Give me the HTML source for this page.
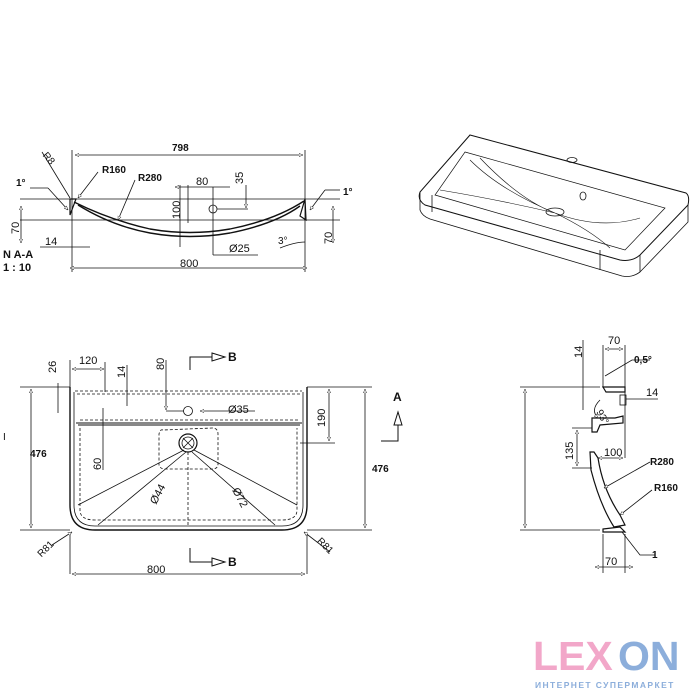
<!DOCTYPE html>
<html><head><meta charset="utf-8"><style>
html,body{margin:0;padding:0;background:#fff;width:700px;height:700px;overflow:hidden}
svg{display:block}
text{font-family:"Liberation Sans",sans-serif;fill:#111}
.b{font-weight:bold}
</style></head><body>
<svg width="700" height="700" viewBox="0 0 700 700" xmlns="http://www.w3.org/2000/svg">
<defs>
<marker id="a" viewBox="0 0 10 10" refX="10" refY="5" markerWidth="5" markerHeight="5" orient="auto-start-reverse"><path d="M0,1 L10,5 L0,9 z" fill="#fff" stroke="#111" stroke-width="1.2"/></marker>
</defs>
<g stroke="#111" stroke-width="0.8" fill="none">
<!-- ===== Section A-A ===== -->
<line x1="20" y1="199" x2="340" y2="199"/>
<line x1="20" y1="220" x2="340" y2="220"/>
<line x1="72" y1="150" x2="72" y2="272"/>
<line x1="305" y1="150" x2="305" y2="272"/>
<line x1="75" y1="155" x2="303" y2="155" marker-start="url(#a)" marker-end="url(#a)"/>
<line x1="70" y1="268" x2="307" y2="268" marker-start="url(#a)" marker-end="url(#a)"/>
<path d="M74,202 Q110,220 150,229 Q190,236 230,229 Q275,220 304,201" stroke-width="1.4"/>
<path d="M78,205 Q112,226 150,233 Q190,240 230,233 Q275,224 300,206" stroke-width="1.4"/>
<path d="M70,199 L76,199 L70,215 Z M305,199 L300,216 L306,220 Z" stroke-width="1.2"/>
<line x1="21" y1="206" x2="21" y2="243" marker-start="url(#a)" marker-end="url(#a)"/>
<line x1="333" y1="206" x2="333" y2="243" marker-start="url(#a)" marker-end="url(#a)"/>
<line x1="180" y1="185" x2="180" y2="247"/>
<line x1="188" y1="185" x2="188" y2="223"/>
<line x1="175" y1="187" x2="230" y2="187" marker-start="url(#a)"/>
<line x1="213" y1="187" x2="213" y2="255"/>
<circle cx="213" cy="209" r="4"/>
<line x1="217" y1="209" x2="248" y2="209"/>
<line x1="246" y1="185" x2="246" y2="208" marker-end="url(#a)"/>
<line x1="213" y1="255" x2="258" y2="255"/>
<line x1="40" y1="247" x2="90" y2="247"/>
<path d="M280,248 Q295,242 305,242"/>
<line x1="42" y1="152" x2="70" y2="198"/>
<line x1="98" y1="172" x2="78" y2="198" marker-end="url(#a)"/>
<line x1="135" y1="180" x2="118" y2="220" marker-end="url(#a)"/>
<line x1="30" y1="188" x2="48" y2="188"/><line x1="48" y1="188" x2="68" y2="210" marker-end="url(#a)"/>
<line x1="340" y1="190" x2="325" y2="190"/><line x1="325" y1="190" x2="310" y2="210" marker-end="url(#a)"/>
<!-- ===== Isometric ===== -->
<path d="M470,135 L686,193 Q690,196 688,205 L640,255 Q632,262 620,260 L425,205 Q417,200 420,192 Z" stroke-width="1"/>
<path d="M420,192 L420,210 Q422,216 430,219 L622,276 Q632,278 640,272 L688,222 L688,205"/>
<line x1="432" y1="195" x2="432" y2="212"/><line x1="600" y1="250" x2="600" y2="270"/><line x1="640" y1="255" x2="640" y2="272"/>
<path d="M465,152 L665,208 L625,250 L435,195 Z" stroke-width="0.7"/>
<path d="M470,160 Q500,190 555,213 Q600,230 640,218 M440,190 Q500,200 555,213 Q590,230 610,248 M480,158 Q520,200 555,213" stroke-width="0.6"/>
<ellipse cx="555" cy="212" rx="9" ry="4"/>
<ellipse cx="572" cy="160" rx="5" ry="2.5"/>
<ellipse cx="583" cy="196" rx="3" ry="4"/>
<!-- ===== Plan view ===== -->
<path d="M70,387 L70,505 Q70,530 95,530 L282,530 Q307,530 307,505 L307,387" stroke-width="1.4"/>
<path d="M74,392 L74,505 Q74,526 95,526 L282,526 Q303,526 303,505 L303,392" />
<path d="M75,391 L302,391 M77,394 L300,394" stroke-dasharray="3,2"/>
<path d="M76,423 L302,423 M78,425 L300,425" stroke-width="1.1"/>
<path d="M80,420 L300,420" stroke-dasharray="3,2"/>
<path d="M80,428 L80,510 Q80,520 95,520 L282,520 Q297,520 297,510 L297,428" stroke-dasharray="3,2"/>
<path d="M163,430 Q160,429 159,434 L159,465 Q160,469 165,469 L212,469 Q218,469 218,464 L218,434 Q218,428 212,428 Z" stroke-dasharray="3,2"/>
<circle cx="188" cy="443" r="9" stroke-width="1.2"/><circle cx="188" cy="443" r="6"/>
<path d="M183,438 L193,448 M193,438 L183,448"/>
<circle cx="188" cy="411" r="4.5"/>
<line x1="188" y1="452" x2="188" y2="525" stroke-dasharray="3,2"/>
<path d="M184,450 L78,505 M186,452 L98,525 M192,452 L275,525 M194,450 L297,505"/>
<line x1="20" y1="387" x2="70" y2="387"/><line x1="20" y1="530" x2="70" y2="530"/>
<line x1="31" y1="389" x2="31" y2="528" marker-start="url(#a)" marker-end="url(#a)"/>
<line x1="307" y1="387" x2="372" y2="387"/><line x1="307" y1="530" x2="372" y2="530"/>
<line x1="365" y1="389" x2="365" y2="528" marker-start="url(#a)" marker-end="url(#a)"/>
<line x1="300" y1="443" x2="335" y2="443"/>
<line x1="329" y1="389" x2="329" y2="441" marker-start="url(#a)" marker-end="url(#a)"/>
<line x1="70" y1="360" x2="70" y2="387"/><line x1="70" y1="574" x2="70" y2="535"/><line x1="307" y1="574" x2="307" y2="535"/>
<line x1="72" y1="574" x2="305" y2="574" marker-start="url(#a)" marker-end="url(#a)"/>
<line x1="72" y1="369" x2="104" y2="369" marker-start="url(#a)" marker-end="url(#a)"/>
<line x1="105" y1="362" x2="105" y2="392"/>
<line x1="58" y1="383" x2="58" y2="413"/>
<line x1="127" y1="365" x2="127" y2="406"/>
<line x1="166" y1="360" x2="166" y2="410" marker-end="url(#a)"/>
<line x1="166" y1="411" x2="184" y2="411"/><line x1="200" y1="411" x2="255" y2="411" marker-start="url(#a)"/>
<line x1="103" y1="408" x2="103" y2="470"/>
<line x1="52" y1="545" x2="72" y2="532" marker-end="url(#a)"/>
<line x1="330" y1="552" x2="304" y2="532" marker-end="url(#a)"/>
<path d="M190,370 L190,357 L212,357" stroke-width="1"/>
<path d="M212,353 L225,357 L212,361 Z" stroke-width="1"/>
<path d="M190,548 L190,562 L212,562" stroke-width="1"/>
<path d="M212,558 L225,562 L212,566 Z" stroke-width="1"/>
<path d="M381,441 L398,441 L398,425" stroke-width="1"/>
<path d="M394,425 L398,412 L402,425 Z" stroke-width="1"/>
<!-- ===== Side section ===== -->
<line x1="520" y1="387" x2="600" y2="387"/><line x1="520" y1="530" x2="600" y2="530"/>
<line x1="525" y1="389" x2="525" y2="528" marker-start="url(#a)" marker-end="url(#a)"/>
<line x1="603" y1="345" x2="603" y2="388"/><line x1="625" y1="345" x2="625" y2="458"/>
<line x1="605" y1="349" x2="623" y2="349" marker-start="url(#a)" marker-end="url(#a)"/>
<path d="M603,387 L625,387 L625,392 L606,392 Z" stroke-width="1.2"/>
<rect x="620" y="395" width="6" height="10"/>
<line x1="626" y1="399" x2="658" y2="399"/>
<line x1="583" y1="340" x2="583" y2="410"/>
<path d="M592,418 L615,418 L623,416 L623,423 L600,425 L597,432 L592,432 Z" stroke-width="1.2"/>
<line x1="572" y1="428" x2="592" y2="428"/><line x1="572" y1="468" x2="592" y2="468"/>
<line x1="577" y1="430" x2="577" y2="466" marker-start="url(#a)" marker-end="url(#a)"/>
<line x1="598" y1="458" x2="623" y2="458" marker-start="url(#a)" marker-end="url(#a)"/>
<path d="M590,452 L594,452 L598,458 Q603,490 620,515 L625,525 L614,527 Q600,505 591,470 Z" stroke-width="1.2"/>
<path d="M603,529 L620,527 L625,532 L603,532 Z" stroke-width="1.2"/>
<line x1="603" y1="534" x2="603" y2="573"/><line x1="625" y1="534" x2="625" y2="573"/>
<line x1="595" y1="567" x2="633" y2="567" marker-start="url(#a)" marker-end="url(#a)"/>
<path d="M605,376 L632,360 L650,360"/><path d="M600,400 Q590,410 598,418" marker-end="url(#a)"/>
<line x1="650" y1="462" x2="604" y2="488" marker-end="url(#a)"/>
<line x1="652" y1="490" x2="620" y2="515" marker-end="url(#a)"/>
<path d="M655,555 L640,555 L622,532"/>
</g>
<g font-size="11">
<text x="172" y="151" class="b" font-size="10">798</text>
<text x="42" y="160" transform="rotate(50 47 158)" font-size="10">R8</text>
<text x="102" y="173" class="b" font-size="10">R160</text>
<text x="138" y="181" class="b" font-size="10">R280</text>
<text x="196" y="185">80</text>
<text x="243" y="184" transform="rotate(-90 243 184)">35</text>
<text x="180" y="219" transform="rotate(-90 180 219)">100</text>
<text x="16" y="186" class="b" font-size="10">1°</text>
<text x="343" y="195" class="b" font-size="10">1°</text>
<text x="19" y="234" transform="rotate(-90 19 234)">70</text>
<text x="332" y="244" transform="rotate(-90 332 244)">70</text>
<text x="45" y="245">14</text>
<text x="229" y="252">Ø25</text>
<text x="278" y="244" font-size="10">3°</text>
<text x="180" y="267">800</text>
<text x="3" y="258" class="b">N A-A</text>
<text x="3" y="271" class="b">1 : 10</text>
<text x="79" y="364">120</text>
<text x="56" y="373" transform="rotate(-90 56 373)">26</text>
<text x="125" y="378" transform="rotate(-90 125 378)">14</text>
<text x="164" y="370" transform="rotate(-90 164 370)">80</text>
<text x="228" y="413">Ø35</text>
<text x="325" y="427" transform="rotate(-90 325 427)">190</text>
<text x="101" y="470" transform="rotate(-90 101 470)">60</text>
<text x="156" y="505" transform="rotate(-62 156 505)">Ø44</text>
<text x="232" y="490" transform="rotate(62 232 490)">Ø72</text>
<text x="37" y="557" transform="rotate(-45 40 552)" font-size="10">R81</text>
<text x="315" y="545" transform="rotate(45 320 545)" font-size="10">R81</text>
<text x="30" y="457" class="b" font-size="10">476</text>
<text x="372" y="472" class="b" font-size="10">476</text>
<text x="147" y="573">800</text>
<text x="228" y="361" class="b" font-size="12">B</text>
<text x="228" y="566" class="b" font-size="12">B</text>
<text x="393" y="401" class="b" font-size="12">A</text>
<text x="3" y="440" font-size="10">I</text>
<text x="608" y="344">70</text>
<text x="582" y="358" transform="rotate(-90 582 358)">14</text>
<text x="634" y="363" class="b" font-size="10">0,5°</text>
<text x="646" y="396">14</text>
<text x="596" y="412" transform="rotate(60 596 412)" font-size="10">93°</text>
<text x="573" y="460" transform="rotate(-90 573 460)">135</text>
<text x="604" y="456">100</text>
<text x="650" y="465" class="b" font-size="10">R280</text>
<text x="654" y="491" class="b" font-size="10">R160</text>
<text x="652" y="558" class="b" font-size="10">1</text>
<text x="605" y="565">70</text>
</g>
<g font-family="Liberation Sans, sans-serif" font-weight="bold">
<text x="533" y="670" font-size="41" style="fill:#f2a7c9">LEX</text>
<text x="618" y="670" font-size="41" style="fill:#8caedb">ON</text>
<text x="535" y="688" font-size="8.5" letter-spacing="1.4" style="fill:#8caedb">ИНТЕРНЕТ СУПЕРМАРКЕТ</text>
</g>
</svg>
</body></html>
